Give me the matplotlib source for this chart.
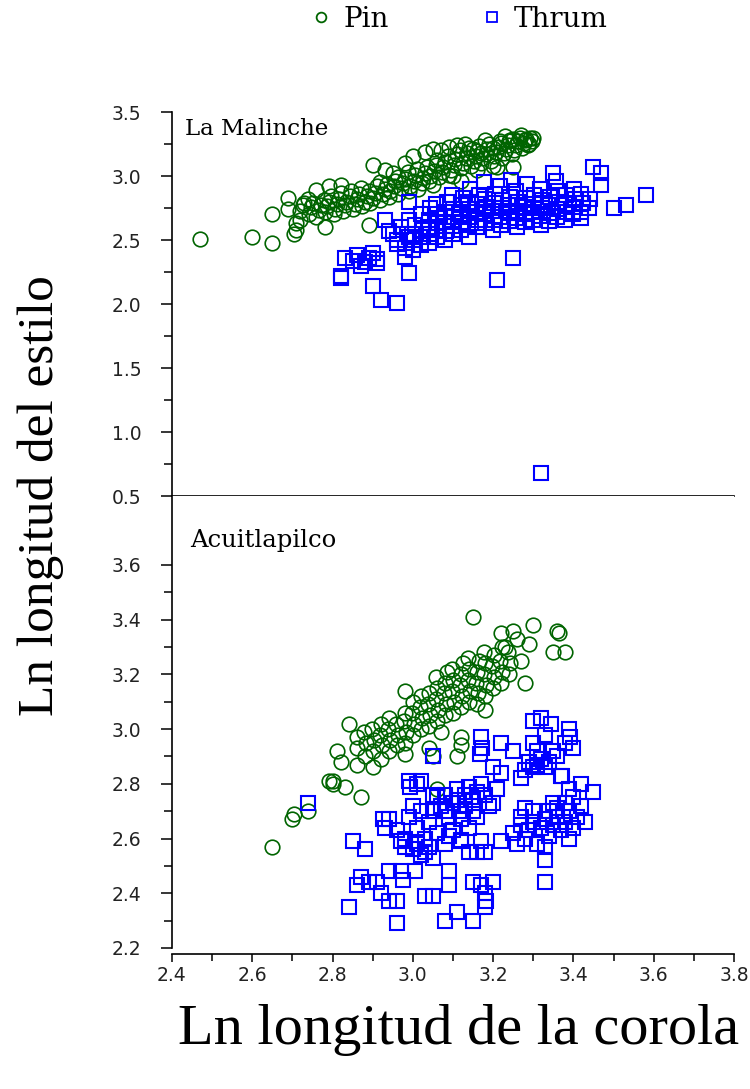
import matplotlib
matplotlib.use('Agg')
import matplotlib.pyplot as plt
from matplotlib.lines import Line2D
import numpy as np

# La Malinche - Pin (x = ln corola, y = ln estilo)
malinche_pin = [
    (2.47, 2.51), (2.60, 2.52), (2.65, 2.48), (2.65, 2.70), (2.69, 2.83), (2.69, 2.74),
    (2.71, 2.63), (2.71, 2.58), (2.705, 2.55), (2.72, 2.66), (2.73, 2.79), (2.74, 2.82),
    (2.76, 2.89), (2.79, 2.92), (2.82, 2.93), (2.78, 2.60), (2.89, 2.62), (2.90, 3.09),
    (2.98, 3.10), (3.03, 3.19), (3.09, 3.23), (3.11, 3.24), (3.17, 3.18), (3.21, 3.07),
    (3.25, 3.07), (3.24, 3.27), (3.27, 3.32), (3.30, 3.30), (3.12, 2.96), (3.28, 3.28),
    (3.29, 3.25), (3.25, 3.29), (3.22, 3.26), (3.20, 3.22), (3.15, 3.21), (3.05, 3.21),
    (3.00, 3.16), (2.95, 3.02), (2.93, 3.05), (3.07, 3.20), (3.13, 3.25), (3.18, 3.28),
    (3.23, 3.31), (3.10, 3.00), (3.16, 3.05), (3.20, 3.08), (3.05, 2.93),
    (2.72, 2.73), (2.727, 2.77), (2.741, 2.70), (2.746, 2.755), (2.752, 2.79), (2.758, 2.68),
    (2.767, 2.735), (2.771, 2.775), (2.778, 2.81), (2.781, 2.72), (2.787, 2.765), (2.792, 2.80),
    (2.797, 2.845), (2.803, 2.70), (2.806, 2.745), (2.812, 2.785), (2.816, 2.82), (2.821, 2.865),
    (2.826, 2.73), (2.832, 2.775), (2.834, 2.80), (2.843, 2.845), (2.846, 2.88), (2.851, 2.74),
    (2.857, 2.785), (2.861, 2.82), (2.866, 2.86), (2.872, 2.905), (2.874, 2.765), (2.881, 2.80),
    (2.886, 2.845), (2.892, 2.885), (2.894, 2.79), (2.902, 2.83), (2.906, 2.87), (2.911, 2.92),
    (2.917, 2.955), (2.919, 2.815), (2.926, 2.86), (2.931, 2.895), (2.936, 2.94), (2.941, 2.835),
    (2.944, 2.88), (2.952, 2.92), (2.956, 2.965), (2.962, 2.995), (2.964, 2.86), (2.971, 2.905),
    (2.976, 2.945), (2.981, 2.98), (2.987, 3.03), (2.991, 2.88), (2.994, 2.925), (3.002, 2.965),
    (3.006, 3.01), (3.011, 3.055), (3.014, 2.90), (3.022, 2.945), (3.026, 2.985), (3.031, 3.025),
    (3.036, 3.07), (3.041, 2.96), (3.044, 3.00), (3.052, 3.04), (3.057, 3.085), (3.061, 3.125),
    (3.064, 2.99), (3.072, 3.03), (3.076, 3.07), (3.081, 3.11), (3.087, 3.155), (3.091, 3.01),
    (3.094, 3.05), (3.102, 3.09), (3.106, 3.13), (3.111, 3.175), (3.117, 3.205), (3.121, 3.06),
    (3.124, 3.10), (3.132, 3.14), (3.136, 3.18), (3.141, 3.22), (3.144, 3.08), (3.152, 3.12),
    (3.157, 3.16), (3.161, 3.195), (3.166, 3.235), (3.171, 3.10), (3.176, 3.14), (3.182, 3.175),
    (3.186, 3.215), (3.191, 3.25), (3.194, 3.12), (3.202, 3.16), (3.206, 3.19), (3.211, 3.23),
    (3.217, 3.27), (3.221, 3.14), (3.226, 3.18), (3.232, 3.21), (3.236, 3.245), (3.241, 3.285),
    (3.246, 3.17), (3.251, 3.20), (3.256, 3.24), (3.262, 3.27), (3.266, 3.30), (3.271, 3.22),
    (3.277, 3.26), (3.282, 3.29), (3.286, 3.245), (3.291, 3.30), (3.296, 3.27),
]

# La Malinche - Thrum
malinche_thrum = [
    (2.82, 2.22), (2.82, 2.20), (2.83, 2.36), (2.86, 2.38), (2.88, 2.33), (2.87, 2.30),
    (2.90, 2.40), (2.91, 2.32), (2.90, 2.14), (2.92, 2.03), (2.96, 2.01), (2.99, 2.24),
    (2.99, 2.80), (2.93, 2.66), (2.94, 2.57), (2.98, 2.44), (2.99, 2.66), (2.98, 2.37),
    (2.96, 2.50), (3.25, 2.36), (3.21, 2.19), (3.45, 3.07), (3.47, 3.02), (3.47, 2.93),
    (3.50, 2.75), (3.53, 2.77), (3.58, 2.85), (3.35, 3.02), (3.42, 2.67), (3.32, 0.68),
    (2.85, 2.34), (2.89, 2.36), (2.91, 2.35), (2.95, 2.55), (2.97, 2.60), (2.96, 2.47),
    (2.99, 2.52),
    (3.00, 2.42), (3.003, 2.50), (2.998, 2.55), (3.005, 2.62),
    (3.02, 2.46), (3.018, 2.52), (3.023, 2.58), (3.021, 2.70),
    (3.04, 2.48), (3.043, 2.55), (3.038, 2.60), (3.041, 2.66), (3.044, 2.75),
    (3.06, 2.52), (3.058, 2.58), (3.063, 2.63), (3.061, 2.70), (3.057, 2.78),
    (3.08, 2.50), (3.083, 2.57), (3.078, 2.64), (3.081, 2.72), (3.084, 2.80),
    (3.10, 2.55), (3.098, 2.61), (3.103, 2.68), (3.101, 2.74), (3.097, 2.85),
    (3.12, 2.58), (3.123, 2.64), (3.118, 2.70), (3.121, 2.77), (3.124, 2.83),
    (3.14, 2.52), (3.138, 2.62), (3.143, 2.68), (3.141, 2.74), (3.137, 2.80), (3.142, 2.90),
    (3.16, 2.60), (3.163, 2.66), (3.158, 2.72), (3.161, 2.78), (3.164, 2.85),
    (3.18, 2.63), (3.178, 2.70), (3.183, 2.76), (3.181, 2.82), (3.177, 2.95),
    (3.20, 2.58), (3.203, 2.66), (3.198, 2.73), (3.201, 2.79), (3.204, 2.86),
    (3.22, 2.62), (3.218, 2.68), (3.223, 2.75), (3.221, 2.81), (3.217, 2.92),
    (3.24, 2.65), (3.243, 2.71), (3.238, 2.77), (3.241, 2.84), (3.244, 2.97),
    (3.26, 2.60), (3.258, 2.67), (3.263, 2.73), (3.261, 2.80), (3.257, 2.88),
    (3.28, 2.64), (3.283, 2.70), (3.278, 2.76), (3.281, 2.83), (3.284, 2.94),
    (3.30, 2.66), (3.298, 2.72), (3.303, 2.78), (3.301, 2.85),
    (3.32, 2.62), (3.318, 2.69), (3.323, 2.75), (3.321, 2.81), (3.317, 2.90),
    (3.34, 2.65), (3.343, 2.71), (3.338, 2.77), (3.341, 2.84),
    (3.36, 2.68), (3.358, 2.74), (3.363, 2.80), (3.361, 2.88), (3.357, 2.96),
    (3.38, 2.66), (3.383, 2.72), (3.378, 2.78), (3.381, 2.85),
    (3.40, 2.70), (3.398, 2.76), (3.403, 2.82), (3.401, 2.90),
    (3.42, 2.72), (3.423, 2.79), (3.418, 2.86), (3.44, 2.75), (3.442, 2.82),
]

# Acuitlapilco - Pin
acuit_pin = [
    (3.15, 3.41), (3.25, 3.36), (3.30, 3.38), (3.36, 3.36), (3.365, 3.35), (3.29, 3.31),
    (3.35, 3.28), (3.38, 3.28), (3.23, 3.30), (3.28, 3.17), (2.98, 3.14), (2.84, 3.02),
    (2.81, 2.92), (2.82, 2.88), (2.79, 2.81), (2.80, 2.81), (2.65, 2.57), (2.70, 2.67),
    (2.705, 2.69), (2.74, 2.70), (2.80, 2.80), (2.83, 2.79), (2.87, 2.75), (3.06, 2.78),
    (3.18, 3.07), (3.07, 2.99), (3.12, 2.97), (3.12, 2.94), (3.11, 2.90), (3.04, 2.93),
    (3.05, 2.90), (2.98, 2.91), (2.90, 2.86), (2.86, 2.87), (3.26, 3.33), (3.27, 3.25),
    (3.22, 3.35),
    (2.86, 2.93), (2.862, 2.97), (2.88, 2.90), (2.883, 2.95), (2.878, 2.99),
    (2.90, 2.92), (2.903, 2.96), (2.898, 3.00),
    (2.92, 2.89), (2.923, 2.94), (2.918, 2.98), (2.921, 3.02),
    (2.94, 2.92), (2.943, 2.96), (2.938, 3.00), (2.941, 3.04),
    (2.96, 2.94), (2.963, 2.98), (2.958, 3.02),
    (2.98, 2.95), (2.983, 2.99), (2.978, 3.03), (2.981, 3.06),
    (3.00, 2.98), (3.003, 3.02), (2.998, 3.06), (3.001, 3.10),
    (3.02, 3.00), (3.023, 3.04), (3.018, 3.08), (3.021, 3.12),
    (3.04, 3.01), (3.043, 3.05), (3.038, 3.09), (3.041, 3.13),
    (3.06, 3.03), (3.063, 3.07), (3.058, 3.11), (3.061, 3.15), (3.057, 3.19),
    (3.08, 3.05), (3.083, 3.09), (3.078, 3.13), (3.081, 3.17), (3.084, 3.21),
    (3.10, 3.06), (3.103, 3.10), (3.098, 3.14), (3.101, 3.18), (3.097, 3.22),
    (3.12, 3.08), (3.123, 3.12), (3.118, 3.16), (3.121, 3.20), (3.124, 3.24),
    (3.14, 3.10), (3.143, 3.14), (3.138, 3.18), (3.141, 3.22), (3.137, 3.26),
    (3.16, 3.09), (3.163, 3.13), (3.158, 3.17), (3.161, 3.21), (3.164, 3.25),
    (3.18, 3.12), (3.183, 3.16), (3.178, 3.20), (3.181, 3.24), (3.177, 3.28),
    (3.20, 3.15), (3.203, 3.19), (3.198, 3.23), (3.201, 3.27),
    (3.22, 3.17), (3.223, 3.21), (3.218, 3.25), (3.221, 3.30),
    (3.24, 3.20), (3.243, 3.24), (3.238, 3.28),
]

# Acuitlapilco - Thrum
acuit_thrum = [
    (3.30, 3.03), (3.32, 3.04), (3.345, 3.02), (3.39, 3.00), (3.392, 2.97), (3.38, 2.95),
    (3.40, 2.93), (3.29, 2.88), (3.30, 2.86), (3.28, 2.85), (3.31, 2.87), (3.32, 2.89),
    (3.20, 2.86), (3.22, 2.84), (3.27, 2.82), (3.37, 2.83), (3.17, 2.97), (3.172, 2.93),
    (3.168, 2.91), (3.22, 2.95), (3.25, 2.92), (3.05, 2.90), (3.33, 2.98), (3.35, 2.92),
    (3.36, 2.90), (3.30, 2.95), (3.31, 2.92), (3.33, 2.86), (3.34, 2.88),
    (2.99, 2.81), (3.01, 2.80), (2.993, 2.79), (3.02, 2.81), (2.925, 2.67), (2.94, 2.67),
    (2.96, 2.63), (2.93, 2.64), (3.00, 2.56), (3.02, 2.54), (3.05, 2.53), (3.00, 2.72),
    (3.02, 2.70), (3.04, 2.66), (3.06, 2.62), (3.08, 2.58), (3.03, 2.60), (3.01, 2.64),
    (3.05, 2.70), (3.07, 2.72), (3.09, 2.68), (3.06, 2.75), (3.08, 2.76), (3.10, 2.73),
    (3.12, 2.70), (3.11, 2.78), (3.13, 2.76), (3.15, 2.74), (3.14, 2.79), (3.16, 2.77),
    (3.18, 2.76), (3.17, 2.80), (3.19, 2.72), (3.21, 2.78), (3.12, 2.67), (3.10, 2.63),
    (3.14, 2.64), (3.04, 2.57), (2.97, 2.59), (2.98, 2.57), (2.99, 2.68), (3.05, 2.76),
    (3.08, 2.70), (3.11, 2.74), (3.13, 2.72), (3.15, 2.70), (3.20, 2.73), (3.09, 2.61),
    (3.12, 2.59), (3.16, 2.68), (2.98, 2.60), (3.01, 2.58), (3.03, 2.55),
    (3.25, 2.62), (3.27, 2.65), (3.28, 2.60), (3.29, 2.63), (3.30, 2.66), (3.31, 2.58),
    (3.32, 2.64), (3.33, 2.67), (3.34, 2.61), (3.35, 2.65), (3.36, 2.68), (3.37, 2.63),
    (3.38, 2.66), (3.39, 2.70), (3.40, 2.64), (3.41, 2.68), (3.42, 2.72), (3.40, 2.75),
    (3.38, 2.73), (3.36, 2.71), (3.34, 2.70), (3.30, 2.70), (3.27, 2.68), (3.26, 2.58),
    (3.33, 2.57), (3.39, 2.60), (3.43, 2.66), (3.372, 2.83), (3.39, 2.78), (3.45, 2.77),
    (3.42, 2.80), (3.33, 2.52), (3.33, 2.44), (3.35, 2.73), (3.28, 2.71),
    (2.84, 2.35), (2.85, 2.59), (2.88, 2.56), (2.86, 2.43), (2.87, 2.46), (2.89, 2.44),
    (2.91, 2.44), (2.92, 2.40), (2.96, 2.29), (2.94, 2.37), (2.96, 2.37), (2.94, 2.48),
    (2.97, 2.48), (2.975, 2.45), (3.005, 2.48), (3.03, 2.39), (3.05, 2.39), (3.09, 2.48),
    (3.09, 2.43), (3.08, 2.30), (3.11, 2.33), (3.15, 2.30), (3.15, 2.44), (3.17, 2.43),
    (3.18, 2.40), (3.182, 2.37), (3.18, 2.35), (3.14, 2.55), (3.16, 2.55), (3.18, 2.55),
    (3.12, 2.595), (3.17, 2.59), (3.22, 2.59), (2.74, 2.73), (3.20, 2.44),
]

pin_color = '#006400'
thrum_color = '#0000ff'


def split(pairs):
    arr = np.array(pairs)
    return arr[:, 0], arr[:, 1]


fig = plt.figure(figsize=(7.5, 10.89), dpi=100)
ax_top = fig.add_axes([0.2293, 0.5445, 0.7493, 0.3526])
ax_bot = fig.add_axes([0.2293, 0.1295, 0.7493, 0.4151])

for ax, pin, thrum in [(ax_top, malinche_pin, malinche_thrum), (ax_bot, acuit_pin, acuit_thrum)]:
    x, y = split(pin)
    ax.plot(x, y, 'o', mfc='none', mec=pin_color, ms=10.5, mew=1.2, linestyle='none')
    x, y = split(thrum)
    ax.plot(x, y, 's', mfc='none', mec=thrum_color, ms=10, mew=1.5, linestyle='none')
    ax.set_xlim(2.4, 3.8)
    ax.spines['top'].set_visible(False)
    ax.spines['right'].set_visible(False)
    for s in ['left', 'bottom']:
        ax.spines[s].set_linewidth(1.2)
    ax.tick_params(axis='y', which='major', direction='out', length=8, width=1.1,
                   pad=14, labelsize=13.5)
    ax.tick_params(axis='y', which='minor', direction='out', length=6, width=1.1)

# top panel
ax_top.set_ylim(0.5, 3.5)
ax_top.set_yticks(np.arange(0.5, 3.51, 0.5))
ax_top.set_yticks(np.arange(0.75, 3.5, 0.5), minor=True)
ax_top.set_yticklabels(['%.1f' % v for v in np.arange(0.5, 3.51, 0.5)], color='#222222')
ax_top.tick_params(axis='x', which='both', bottom=False, labelbottom=False)
ax_top.text(2.432, 3.37, 'La Malinche', family='DejaVu Serif', fontsize=16.5, va='center')

# bottom panel
ax_bot.set_ylim(2.2, 3.852)
yt = np.arange(2.2, 3.61, 0.2)
ax_bot.set_yticks(yt)
ax_bot.set_yticklabels(['%.1f' % v for v in yt], color='#222222')
ax_bot.set_yticks(np.arange(2.3, 3.55, 0.2), minor=True)
ax_bot.spines['bottom'].set_position(('outward', 4))
xt = np.arange(2.4, 3.81, 0.2)
ax_bot.set_xticks(xt)
ax_bot.set_xticklabels(['%.1f' % v for v in xt], color='#222222')
ax_bot.set_xticks(np.arange(2.5, 3.8, 0.2), minor=True)
ax_bot.tick_params(axis='x', which='major', direction='out', length=6, width=1.1,
                   pad=3, labelsize=13.5)
ax_bot.tick_params(axis='x', which='minor', direction='out', length=5, width=1.1)
ax_bot.text(2.445, 3.69, 'Acuitlapilco', family='DejaVu Serif', fontsize=17.5, va='center')

fig.text(0.055, 0.545, 'Ln longitud del estilo', rotation=90, family='Liberation Serif',
         fontsize=37, ha='center', va='center')
fig.text(0.612, 0.054, 'Ln longitud de la corola', family='Liberation Serif',
         fontsize=42, ha='center', va='center')

handles = [
    Line2D([], [], marker='o', mfc='none', mec=pin_color, ms=7, mew=1.3, linestyle='none'),
    Line2D([], [], marker='s', mfc='none', mec=thrum_color, ms=7, mew=1.3, linestyle='none'),
]
fig.legend(handles, ['Pin', 'Thrum'], loc='center', bbox_to_anchor=(0.61, 0.982), ncol=2,
           frameon=False, prop={'family': 'DejaVu Serif', 'size': 20},
           handletextpad=0.3, columnspacing=3.2, handlelength=1.0)

fig.savefig('out.png', dpi=100)
